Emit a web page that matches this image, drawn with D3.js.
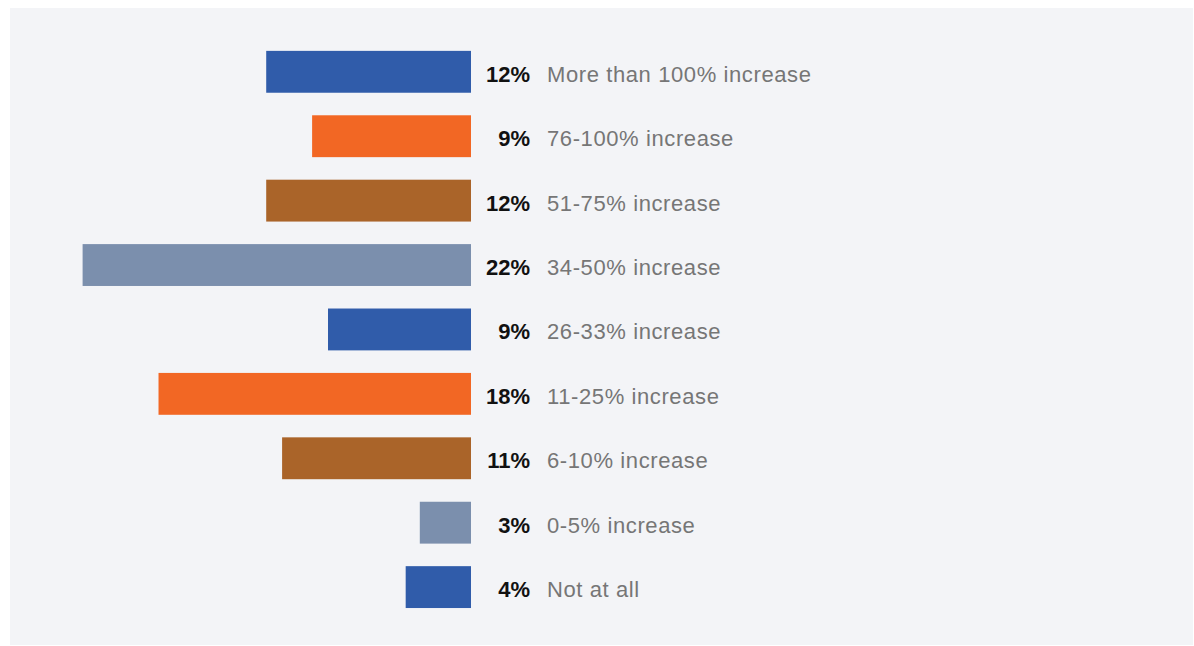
<!DOCTYPE html>
<html>
<head>
<meta charset="utf-8">
<script src="https://cdn.jsdelivr.net/npm/d3@7"></script>
<style>
  body { margin: 0; background: #ffffff; }
  svg { display: block; }
</style>
</head>
<body>
<div id="chart"></div>
<script>
// Horizontal bars growing left, labels on the right

// ==========================================================
// Data
var categories = [
    "More than 100% increase",
    "76-100% increase",
    "51-75% increase",
    "34-50% increase",
    "26-33% increase",
    "11-25% increase",
    "6-10% increase",
    "0-5% increase",
    "Not at all"
];
var values = [11.6, 9.0, 11.6, 22.0, 8.1, 17.7, 10.7, 2.9, 3.7];
var valueLabels = ["12%", "9%", "12%", "22%", "9%", "18%", "11%", "3%", "4%"];
var colors = ["#305caa", "#f26724", "#aa6429", "#7b8fad",
              "#305caa", "#f26724", "#aa6429", "#7b8fad", "#305caa"];

// ==========================================================
// Sizes
var svgWidth = 1194;
var svgHeight = 646;

var svg = d3.select("#chart")
    .append("svg")
    .attr("width", svgWidth)
    .attr("height", svgHeight);

// panel background
svg.append("rect")
    .attr("x", 10)
    .attr("y", 8)
    .attr("width", 1183)
    .attr("height", 637)
    .attr("fill", "#f3f4f7");

var baseX = 471;

var xScale = d3.scaleLinear()
    .domain([0, 22])
    .range([baseX, 82.6]);

var yScale = d3.scaleBand()
    .domain(categories)
    .range([39.6, 619.3])
    .paddingInner(0.35)
    .paddingOuter(0.175);

var rows = categories.map(function(c, i) {
    return { cat: c, value: values[i], label: valueLabels[i], color: colors[i] };
});

var chartGroup = svg.append("g");

// bars
chartGroup.selectAll("rect.bar")
    .data(rows)
    .enter()
    .append("rect")
    .attr("class", "bar")
    .attr("x", d => xScale(d.value))
    .attr("y", d => yScale(d.cat))
    .attr("width", d => baseX - xScale(d.value))
    .attr("height", yScale.bandwidth())
    .attr("fill", d => d.color);

// value labels
chartGroup.selectAll("text.val")
    .data(rows)
    .enter()
    .append("text")
    .attr("class", "val")
    .attr("x", 530)
    .attr("y", d => yScale(d.cat) + yScale.bandwidth() / 2 + 10)
    .attr("text-anchor", "end")
    .style("font-family", "'Liberation Sans', Arial, sans-serif")
    .style("font-weight", "bold")
    .style("font-size", "22px")
    .attr("fill", "#111111")
    .text(d => d.label);

// category labels
chartGroup.selectAll("text.cat")
    .data(rows)
    .enter()
    .append("text")
    .attr("class", "cat")
    .attr("x", 547)
    .attr("y", d => yScale(d.cat) + yScale.bandwidth() / 2 + 10)
    .style("font-family", "'Liberation Sans', Arial, sans-serif")
    .style("font-size", "22px")
    .style("letter-spacing", "0.6px")
    .attr("fill", "#767676")
    .text(d => d.cat);
</script>
</body>
</html>
